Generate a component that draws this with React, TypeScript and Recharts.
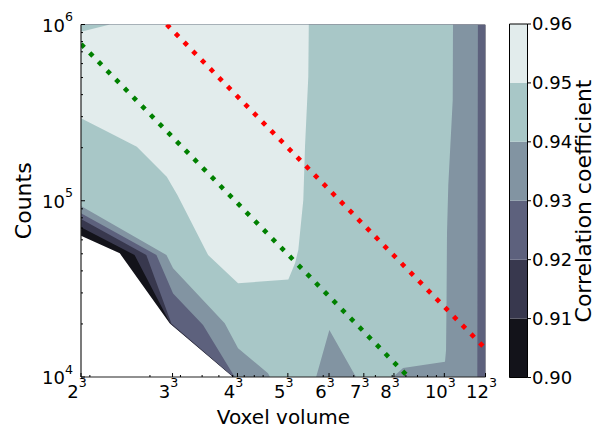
import { ComposedChart, Area, Line, XAxis, YAxis, ReferenceArea, Label } from "recharts";

const FONT = "'DejaVu Sans', sans-serif";

// contour levels and the colour of each band (bone colormap)
const levels = [0.9, 0.91, 0.92, 0.93, 0.94, 0.95, 0.96];
const bandColors = ["#13131a", "#38384e", "#5d617d", "#8294a2", "#a8c7c7", "#e2ecec"];

// axis ticks
const xMajor = [8, 27, 64, 125, 216, 343, 512, 1000, 1728];
const xMajorBase = ["2", "3", "4", "5", "6", "7", "8", "10", "12"];
const xMinor = [9, 20, 30, 40, 50, 60, 70, 80, 90, 200, 300, 400, 500, 600, 700, 800, 900];
const yMajor = [1e4, 1e5, 1e6];
const yMajorExp = ["4", "5", "6"];
const yMinor = [2e4, 3e4, 4e4, 5e4, 6e4, 7e4, 8e4, 9e4, 2e5, 3e5, 4e5, 5e5, 6e5, 7e5, 8e5, 9e5];

// regions where correlation >= level: [lowest counts, highest counts] per voxel volume
const atLeast090 = [
  { v: 8, r: [63300, 1e6] },
  { v: 13.4, r: [50300, 1e6] },
  { v: 26, r: [20200, 1e6] },
  { v: 60.3, r: [10000, 1e6] },
  { v: 1728, r: [10000, 1e6] },
];
const atLeast091 = [
  { v: 8, r: [70700, 1e6] },
  { v: 16.3, r: [49200, 1e6] },
  { v: 26.3, r: [20000, 1e6] },
  { v: 60.7, r: [10000, 1e6] },
  { v: 1728, r: [10000, 1e6] },
];
const atLeast092 = [
  { v: 8, r: [78800, 1e6] },
  { v: 19.05, r: [49200, 1e6] },
  { v: 26.6, r: [20100, 1e6] },
  { v: 60.7, r: [10000, 1e6] },
  { v: 1728, r: [10000, 1e6] },
];
const atLeast093 = [
  { v: 8, r: [84900, 1e6] },
  { v: 21.8, r: [49200, 1e6] },
  { v: 27.2, r: [29800, 1e6] },
  { v: 40.5, r: [19700, 1e6] },
  { v: 61.7, r: [10000, 1e6] },
  { v: 1550, r: [10000, 1e6] },
  { v: 1562, r: [1e6, 1e6] },
];
const atLeast094 = [
  { v: 8, r: [93400, 1e6] },
  { v: 24.9, r: [49200, 1e6] },
  { v: 27.2, r: [41400, 1e6] },
  { v: 54, r: [20200, 1e6] },
  { v: 64.5, r: [14550, 1e6] },
  { v: 96, r: [10500, 1e6] },
  { v: 98.6, r: [10000, 1e6] },
  { v: 182, r: [10000, 1e6] },
  { v: 217, r: [18500, 1e6] },
  { v: 309, r: [10000, 1e6] },
  { v: 506, r: [10000, 1e6] },
  { v: 578, r: [11250, 1e6] },
  { v: 1009, r: [12200, 1e6] },
  { v: 1023, r: [14200, 1e6] },
  { v: 1030, r: [27400, 1e6] },
  { v: 1036, r: [65600, 1e6] },
  { v: 1054, r: [122900, 1e6] },
  { v: 1118, r: [372900, 1e6] },
  { v: 1122, r: [1e6, 1e6] },
];
const atLeast095 = [
  { v: 8, r: [293700, 910000] },
  { v: 11.76, r: [242000, 1e6] },
  { v: 16.8, r: [202600, 1e6] },
  { v: 25, r: [136900, 1e6] },
  { v: 28.8, r: [107800, 1e6] },
  { v: 43.3, r: [49200, 1e6] },
  { v: 64.5, r: [34000, 1e6] },
  { v: 125.8, r: [35800, 1e6] },
  { v: 137.5, r: [44200, 1e6] },
  { v: 143.6, r: [52600, 1e6] },
  { v: 153.5, r: [101000, 1e6] },
  { v: 157, r: [202600, 1e6] },
  { v: 164, r: [505500, 1e6] },
  { v: 165.1, r: [1e6, 1e6] },
];
const regions = [atLeast090, atLeast091, atLeast092, atLeast093, atLeast094, atLeast095];

// guide lines, counts ~ 1 / volume
const greenLine = [
  { v: 8, c: 775000 },
  { v: 620, c: 10000 },
];
const redLine = [
  { v: 25, c: 1000000 },
  { v: 1728, c: 14470 },
];

const SPINE = "#222";

const XTick = (props: any) => {
  const { x, y, payload, top } = props;
  const i = xMajor.indexOf(payload.value);
  const len = i >= 0 ? 4 : 2;
  return (
    <g>
      <line x1={x} x2={x} y1={y} y2={top ? y + len : y - len} stroke="#000" strokeWidth={1} />
      {!top && i >= 0 && (
        <text x={x - 4} y={y + 21.3} textAnchor="middle" fontSize={18} fill="#000">
          <tspan>{xMajorBase[i]}</tspan>
          <tspan dy={-11} fontSize={12.6}>3</tspan>
        </text>
      )}
    </g>
  );
};

const YTick = (props: any) => {
  const { x, y, payload, right } = props;
  const i = yMajor.indexOf(payload.value);
  const len = i >= 0 ? 4 : 2;
  return (
    <g>
      <line x1={x} x2={right ? x - len : x + len} y1={y} y2={y} stroke="#000" strokeWidth={1} />
      {!right && i >= 0 && (
        <text x={x - 8} y={y + 7} textAnchor="end" fontSize={18} fill="#000">
          <tspan>10</tspan>
          <tspan dy={-10.5} fontSize={12.6}>{yMajorExp[i]}</tspan>
        </text>
      )}
    </g>
  );
};

const AxisText = ({ x, y, angle = 0, size, children }: any) => (
  <text transform={`translate(${x},${y}) rotate(${angle})`} textAnchor="middle" fontSize={size} fill="#000">
    {children}
  </text>
);

const cbData = [0, 1].map((x) => {
  const row: any = { x };
  bandColors.forEach((_, i) => {
    row["b" + i] = [levels[i], levels[i + 1]];
  });
  return row;
});

export default function App() {
  const xTicks = [...xMajor, ...xMinor];
  const yTicks = [...yMajor, ...yMinor];
  return (
    <div style={{ position: "absolute", left: 0, top: 0, width: 595, height: 431, fontFamily: FONT, background: "#fff" }}>
      <div style={{ position: "absolute", left: 0, top: 0 }}>
        <ComposedChart width={595} height={431} margin={{ top: 24.5, right: 109.5, bottom: 0, left: 0 }}>
          <XAxis
            xAxisId="b"
            dataKey="v"
            type="number"
            scale="log"
            domain={[8, 1728]}
            allowDataOverflow
            ticks={xTicks}
            interval={0}
            height={54}
            tickSize={0}
            tickMargin={0}
            tickLine={false}
            axisLine={{ stroke: SPINE, strokeWidth: 1.2 }}
            tick={<XTick />}
          >
            <Label content={() => <AxisText x={283.5} y={424} size={20}>Voxel volume</AxisText>} />
          </XAxis>
          <XAxis
            xAxisId="t"
            orientation="top"
            type="number"
            scale="log"
            domain={[8, 1728]}
            allowDataOverflow
            ticks={xTicks}
            interval={0}
            height={0}
            tickSize={0}
            tickMargin={0}
            tickLine={false}
            axisLine={{ stroke: SPINE, strokeWidth: 1.2 }}
            tick={<XTick top />}
          />
          <YAxis
            yAxisId="l"
            type="number"
            scale="log"
            domain={[1e4, 1e6]}
            allowDataOverflow
            ticks={yTicks}
            interval={0}
            width={81}
            tickSize={0}
            tickMargin={0}
            tickLine={false}
            axisLine={{ stroke: SPINE, strokeWidth: 1.2 }}
            tick={<YTick />}
          >
            <Label content={() => <AxisText x={31} y={200.75} angle={-90} size={22}>Counts</AxisText>} />
          </YAxis>
          <YAxis
            yAxisId="r"
            orientation="right"
            type="number"
            scale="log"
            domain={[1e4, 1e6]}
            allowDataOverflow
            ticks={yTicks}
            interval={0}
            width={0}
            tickSize={0}
            tickMargin={0}
            tickLine={false}
            axisLine={{ stroke: SPINE, strokeWidth: 1.2 }}
            tick={<YTick right />}
          />
          {regions.map((data, i) => (
            <Area
              key={"reg" + i}
              xAxisId="b"
              yAxisId="l"
              data={data}
              dataKey="r"
              type="linear"
              fill={bandColors[i]}
              fillOpacity={1}
              stroke="none"
              dot={false}
              activeDot={false}
              isAnimationActive={false}
            />
          ))}
          <Line
            xAxisId="b"
            yAxisId="l"
            data={greenLine}
            dataKey="c"
            type="linear"
            stroke="#008000"
            strokeWidth={4.6}
            strokeDasharray="4.6 7.8"
            dot={false}
            activeDot={false}
            isAnimationActive={false}
          />
          <Line
            xAxisId="b"
            yAxisId="l"
            data={redLine}
            dataKey="c"
            type="linear"
            stroke="#ff0000"
            strokeWidth={4.6}
            strokeDasharray="4.6 7.8"
            dot={false}
            activeDot={false}
            isAnimationActive={false}
          />
        </ComposedChart>
      </div>
      <div style={{ position: "absolute", left: 0, top: 0 }}>
        <ComposedChart width={595} height={431} data={cbData} margin={{ top: 24, right: 0, bottom: 53.5, left: 509.5 }}>
          <XAxis dataKey="x" type="number" domain={[0, 1]} hide />
          <YAxis
            orientation="right"
            type="number"
            domain={[0.9, 0.96]}
            ticks={levels}
            interval={0}
            width={67.5}
            tickSize={3.5}
            tickMargin={1}
            axisLine={false}
            tickLine={{ stroke: "#000" }}
            tick={{ fill: "#000", fontSize: 18 }}
            tickFormatter={(v: number) => v.toFixed(2)}
          >
            <Label content={() => <AxisText x={591} y={201} angle={-90} size={22}>Correlation coefficient</AxisText>} />
          </YAxis>
          {bandColors.map((c, i) => (
            <Area
              key={"cb" + i}
              dataKey={"b" + i}
              type="linear"
              fill={c}
              fillOpacity={1}
              stroke="none"
              dot={false}
              activeDot={false}
              isAnimationActive={false}
            />
          ))}
          <ReferenceArea x1={0} x2={1} y1={0.9} y2={0.96} fill="none" stroke="#000" strokeWidth={1} />
        </ComposedChart>
      </div>
    </div>
  );
}
